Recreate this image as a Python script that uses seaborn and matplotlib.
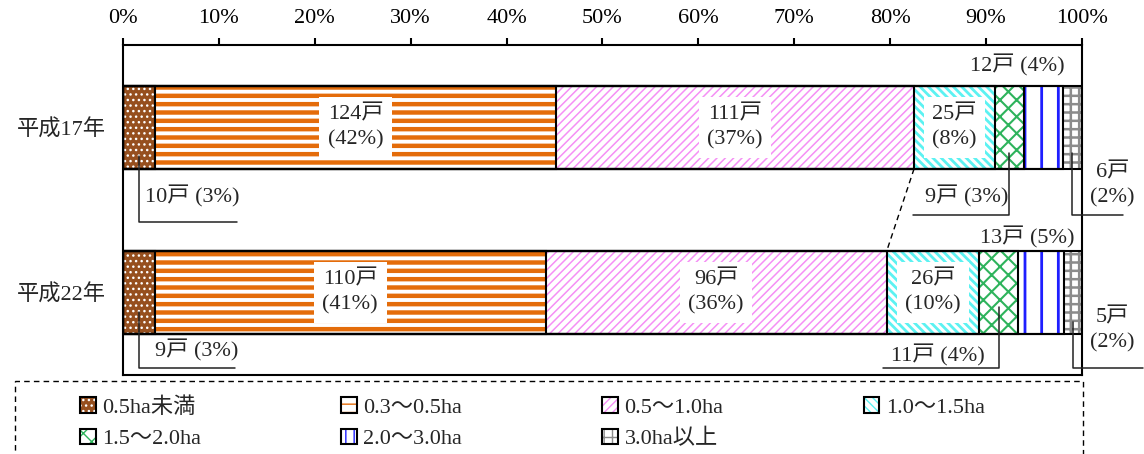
import matplotlib.pyplot as plt
import numpy as np
import pandas as pd
import seaborn as sns
from matplotlib.legend_handler import HandlerTuple
from matplotlib.patches import Patch, Rectangle
from matplotlib.ticker import PercentFormatter

# data
years = ["平成17年", "平成22年"]
classes = ["0.5ha未満", "0.3〜0.5ha", "0.5〜1.0ha", "1.0〜1.5ha",
           "1.5〜2.0ha", "2.0〜3.0ha", "3.0ha以上"]
farms_h17 = [10, 124, 111, 25, 9, 12, 6]
farms_h22 = [9, 110, 96, 26, 11, 13, 5]

# styles
face_colors = ["#964F1E", "white", "white", "white", "white", "white", "white"]
hatch_colors = ["white", "#E46C0A", "#F590F5", "#5CF2F2", "#2EB35C",
                "#1F1FFF", "#8C8C8C"]
hatches = ["...", "--", "////", "\\\\\\\\", "xx", "|", "++"]
hatch_widths = [1.0, 3.2, 1.1, 2.0, 1.5, 2.0, 1.8]

sns.set_theme(style="white")
plt.rcParams["font.family"] = ["Liberation Serif", "Noto Sans CJK JP"]
FS = 16

rows = []
for year, counts in zip(years, [farms_h17, farms_h22]):
    total = sum(counts)
    cum = 0.0
    for cls, n in zip(classes, counts):
        pct = n / total * 100
        rows.append(dict(year=year, cls=cls, n=n, pct=pct,
                         start=cum, end=cum + pct))
        cum += pct
df = pd.DataFrame(rows)


def seg(r, c):
    return df[(df.year == years[r]) & (df.cls == classes[c])].iloc[0]


fig = plt.figure(figsize=(11.44, 4.54), dpi=100)
ax = fig.add_axes([0.1075, 0.174, 0.8383, 0.727])

# stacked bars: cumulative ends drawn from the longest down
for i in reversed(range(len(classes))):
    sub = df[df.cls == classes[i]]
    with plt.rc_context({"hatch.linewidth": hatch_widths[i]}):
        sns.barplot(data=sub, x="end", y="year", order=years, orient="y",
                    color=face_colors[i], edgecolor=hatch_colors[i],
                    hatch=hatches[i], linewidth=0, saturation=1, width=0.5,
                    errorbar=None, ax=ax)
for p in list(ax.patches):
    ax.add_patch(Rectangle(p.get_xy(), p.get_width(), p.get_height(),
                           fill=False, ec="black", lw=1.5, zorder=3))

ax.set_xlim(0, 100)
ax.set_ylim(1.5, -0.5)
ax.set_xlabel("")
ax.set_ylabel("")
ax.xaxis.tick_top()
ax.set_xticks(np.arange(0, 101, 10))
ax.xaxis.set_major_formatter(PercentFormatter(decimals=0))
ax.tick_params(axis="x", direction="out", length=5, width=1.5, pad=7,
               labelsize=FS, colors="black")
ax.set_yticks([0, 1], years)
ax.tick_params(axis="y", length=0, pad=12, labelsize=FS)
ax.set_yticks([-0.5, 0.5, 1.5], minor=True)
ax.tick_params(axis="y", which="minor", length=5, width=1.5,
               direction="out", color="black")
for s in ax.spines.values():
    s.set_color("black")
    s.set_linewidth(1.5)

# labels inside the wide segments
for r in range(2):
    for c in (1, 2, 3):
        s = seg(r, c)
        ax.text((s.start + s.end) / 2, r, f"{s.n}戸\n({s.pct:.0f}%)",
                ha="center", va="center", fontsize=FS, linespacing=1.45,
                bbox=dict(boxstyle="square,pad=0.38", fc="white", ec="none"),
                zorder=4)

# labels with leader lines
leader_layout = {
    (0, 0): dict(y0=0.17, y1=0.57, x1=11.9, tx=2.3, ty=0.42, ha="left"),
    (0, 4): dict(y0=0.155, y1=0.53, x1=82.4, tx=88.0, ty=0.42, ha="center"),
    (0, 6): dict(y0=0.155, y1=0.53, x1=104.3, tx=103.2, ty=0.35,
                 ha="center", two=True),
    (1, 0): dict(y0=0.12, y1=0.458, x1=11.7, tx=3.3, ty=0.35, ha="left"),
    (1, 4): dict(y0=0.09, y1=0.458, x1=79.2, tx=85.0, ty=0.38, ha="center"),
    (1, 6): dict(y0=0.18, y1=0.458, x1=106.4, tx=103.2, ty=0.23,
                 ha="center", two=True),
}
for (r, c), lay in leader_layout.items():
    s = seg(r, c)
    xc = (s.start + s.end) / 2
    ax.plot([xc, xc, lay["x1"]], [r + lay["y0"], r + lay["y1"], r + lay["y1"]],
            color="#222222", lw=1.1, clip_on=False, zorder=5)
    sep = "\n" if lay.get("two") else " "
    ax.text(lay["tx"], r + lay["ty"], f"{s.n}戸{sep}({s.pct:.0f}%)",
            ha=lay["ha"], va="center", fontsize=FS, linespacing=1.45,
            clip_on=False)

# labels above the bar (2.0〜3.0ha)
top_layout = {0: (93.3, -0.373), 1: (94.3, -0.336)}
for r, (tx, ty) in top_layout.items():
    s = seg(r, 5)
    ax.text(tx, r + ty, f"{s.n}戸 ({s.pct:.0f}%)", ha="center", va="center",
            fontsize=FS)

# dashed connector between the 0.5〜1.0ha ends
a, b = seg(0, 2).end, seg(1, 2).end
ax.plot([a, b], [0.25, 0.75], color="black", lw=1, dashes=(4, 3), zorder=5)

# legend (row-major order with 4 columns) inside a dashed frame
fig.add_artist(Rectangle((15 / 1144, -0.1), 1068 / 1144, 1 - 381 / 454 + 0.1,
                         transform=fig.transFigure, fill=False, ec="black",
                         lw=1, ls=(0, (4, 3))))
# single-stroke hatches are doubled so they show in the small swatches
handles = [(Patch(facecolor=f, edgecolor=hc, hatch=h if len(h) > 1 else h * 2,
                  lw=0),
            Patch(fill=False, edgecolor="black", lw=1.5))
           for f, hc, h in zip(face_colors, hatch_colors, hatches)]
order = [0, 4, 1, 5, 2, 6, 3]
fig.legend([handles[i] for i in order], [classes[i] for i in order],
           handler_map={tuple: HandlerTuple(ndivide=1, pad=0)},
           ncol=4, loc="upper left",
           bbox_to_anchor=(80 / 1144, 1 - 397 / 454),
           frameon=False, fontsize=FS, handlelength=0.7,
           handleheight=0.7, handletextpad=0.3, borderaxespad=0,
           borderpad=0, labelspacing=0.5, columnspacing=6.3)

fig.savefig("out.png", dpi=100)
